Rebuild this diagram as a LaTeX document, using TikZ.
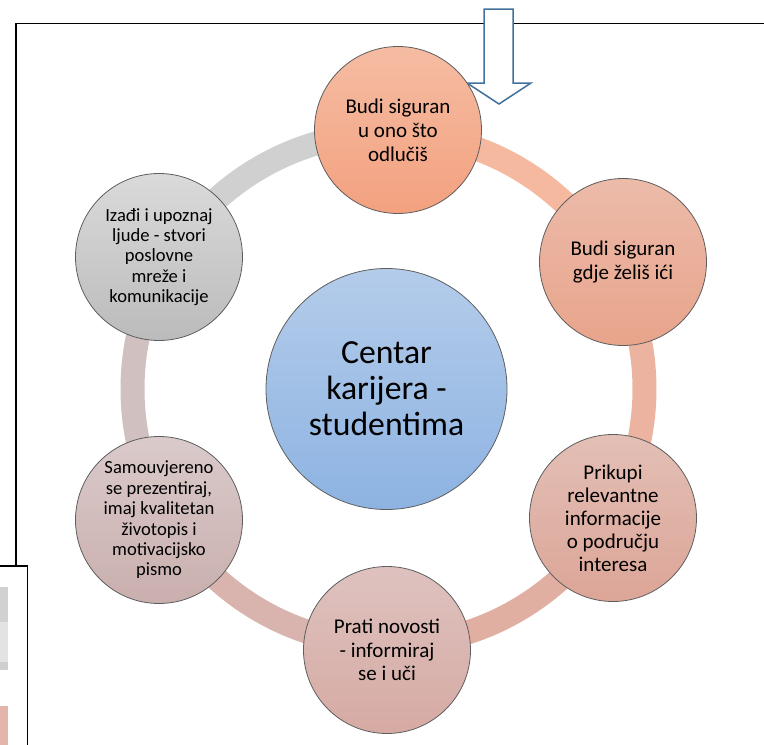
\documentclass[tikz,border=0pt]{standalone}
\usepackage{fontspec}
\setmainfont{Carlito}
\usetikzlibrary{calc}

\definecolor{edgegray}{HTML}{5E5E5E}
\definecolor{arrowblue}{HTML}{41719C}
\definecolor{ringA}{HTML}{F5B9A0}
\definecolor{ringB}{HTML}{ECB3A1}
\definecolor{ringC}{HTML}{E1AEA2}
\definecolor{ringD}{HTML}{D9B4AE}
\definecolor{ringE}{HTML}{D0C0C0}
\definecolor{ringF}{HTML}{D0D0D0}

\tikzset{
  bubble/.style={circle, draw=edgegray, line width=0.8pt, minimum size=167pt,
    inner sep=0pt, align=center, font=\fontsize{21}{24}\selectfont},
  smallbubble/.style={bubble, font=\fontsize{18.6}{20.4}\selectfont},
  hub/.style={circle, draw=edgegray, line width=0.8pt, minimum size=241pt,
    inner sep=0pt, align=center, font=\fontsize{33.7}{36}\selectfont,
    top color={rgb,255:red,180;green,204;blue,234},
    bottom color={rgb,255:red,141;green,179;blue,226}},
}

\begin{document}
\begin{tikzpicture}[x=1pt,y=-1pt]
\useasboundingbox (0,0) rectangle (764,745);
\clip (0,0) rectangle (764,745);

% page frame and the box at the left
\draw[line width=1.8pt] (16,760) -- (16,23.5) -- (780,23.5);
\filldraw[fill=white, line width=1.5pt] (-10,566) rectangle (27.5,760);
\fill[black!18] (0,587) rectangle (8,622);
\fill[black!11] (0,622) rectangle (8,662);
\fill[black!19] (0,662) rectangle (8,670);
\fill[ringC!90] (0,706) rectangle (8,750);

% arrow from the top
\filldraw[draw=arrowblue, fill=white, line width=1.5pt]
  (484,9) -- (513,9) -- (513,83) -- (531,83) -- (499,104) -- (467,83) -- (484,83) -- cycle;

% ring
\coordinate (ringc) at (388.5,389);
\foreach \a/\b/\c in {-88/-28/ringA, -28/30/ringB, 30/90/ringC, 90/150/ringD, 150/210/ringE, 210/272/ringF} {
  \draw[line width=24pt, \c] ($(ringc)+(\a:256)$) arc[start angle=\a, end angle=\b, radius=256];
}

% steps
\node[bubble, top color={rgb,255:red,245;green,188;blue,163}, bottom color={rgb,255:red,243;green,161;blue,127}]
  (sure) at (398,130) {Budi siguran\\u ono što\\odlučiš};
\node[bubble, top color={rgb,255:red,236;green,187;blue,170}, bottom color={rgb,255:red,232;green,164;blue,139}]
  (where) at (623,262) {Budi siguran\\gdje želiš ići};
\node[bubble, font=\fontsize{21}{23}\selectfont, top color={rgb,255:red,227;green,191;blue,182}, bottom color={rgb,255:red,220;green,165;blue,151}]
  (collect) at (613,518) {Prikupi\\relevantne\\informacije\\o području\\interesa};
\node[bubble, font=\fontsize{21}{23.3}\selectfont, top color={rgb,255:red,222;green,194;blue,191}, bottom color={rgb,255:red,214;green,170;blue,163}]
  (news) at (387,650) {Prati novosti\\- informiraj\\se i uči};
\node[smallbubble, top color={rgb,255:red,218;green,202;blue,202}, bottom color={rgb,255:red,201;green,175;blue,173}]
  (present) at (159,520) {Samouvjereno\\se prezentiraj,\\imaj kvalitetan\\životopis i\\motivacijsko\\pismo};
\node[smallbubble, top color={rgb,255:red,218;green,218;blue,218}, bottom color={rgb,255:red,187;green,187;blue,187}]
  (network) at (159,257) {Izađi i upoznaj\\ljude - stvori\\poslovne\\mreže i\\komunikacije};

% centre
\node[hub] (centre) at (386.5,389) {Centar\\karijera -\\studentima};
\end{tikzpicture}
\end{document}
